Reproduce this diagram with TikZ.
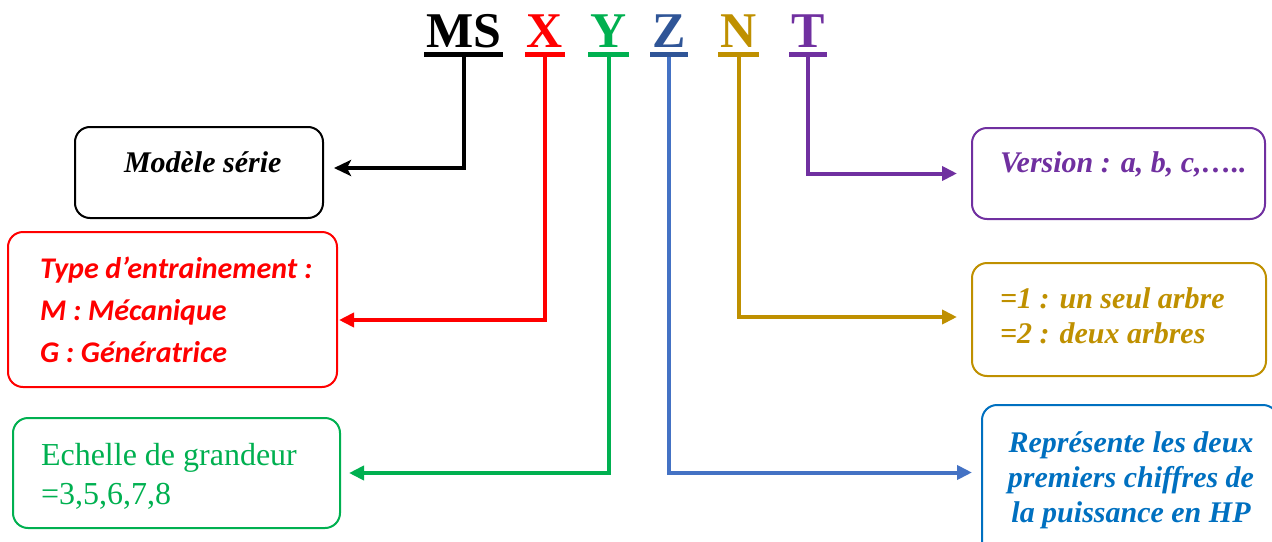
\documentclass[tikz,border=0pt]{standalone}
\usepackage{fontspec}
\setmainfont{Liberation Serif}
\newfontfamily\calibri{Carlito}
\usetikzlibrary{arrows.meta}
\definecolor{rouge}{HTML}{FF0000}
\definecolor{vert}{HTML}{00B050}
\definecolor{bleuZ}{HTML}{2F5597}
\definecolor{bleuL}{HTML}{4472C4}
\definecolor{bleuB}{HTML}{0070C0}
\definecolor{ocre}{HTML}{BF9000}
\definecolor{violet}{HTML}{7030A0}
\begin{document}
\begin{tikzpicture}[x=1pt,y=-1pt,line width=4pt,line join=miter,
  lettre/.style={inner sep=0pt,anchor=base,
    font=\fontsize{50}{50}\selectfont\bfseries},
  cadre/.style={draw,line width=2pt,rounded corners=15pt,inner sep=0pt},
  fl/.style={-{Triangle[length=15pt,width=14pt]},line width=4pt},
  bi/.style={inner sep=0pt,align=left,
    font=\fontsize{30}{35}\selectfont\bfseries\itshape}]
  \useasboundingbox (0,0) rectangle (1272,541);
  \clip (0,0) rectangle (1272,541);
  % le code
  \node[lettre] (ms) at (463.5,47) {MS};
  \node[lettre,text=rouge] (lx) at (545,47) {X};
  \node[lettre,text=vert] (ly) at (608.5,47) {Y};
  \node[lettre,text=bleuZ] (lz) at (669,47) {Z};
  \node[lettre,text=ocre] (ln) at (738.5,47) {N};
  \node[lettre,text=violet] (lt) at (808,47) {T};
  \foreach \l/\col in {ms/black,lx/rouge,ly/vert,lz/bleuZ,ln/ocre,lt/violet}
    \draw[\col,line width=5pt] ([yshift=-5.5pt]\l.south west)
      -- ([yshift=-5.5pt]\l.south east);
  % cadres
  \node[cadre,minimum width=248pt,minimum height=91pt] (serie) at (199,172.5) {};
  \node[cadre,rouge,minimum width=329pt,minimum height=155pt] (type) at (172.5,309.5) {};
  \node[cadre,vert,minimum width=327pt,minimum height=110pt] (echelle) at (176.5,473) {};
  \node[cadre,violet,minimum width=293pt,minimum height=91pt] (version) at (1118.5,173.5) {};
  \node[cadre,ocre,minimum width=294pt,minimum height=113pt] (arbre) at (1119,319.5) {};
  \node[cadre,bleuB,minimum width=296pt,minimum height=155pt] (puiss) at (1130,482.5) {};
  % textes (base = derniere ligne)
  \node[bi,anchor=base west] (serie-t) at (122,172) {Modèle série};
  \node[bi,anchor=base west,text=violet] (version-t) at (998,172) {Version : a, b, c,…..};
  \node[bi,anchor=base west,text=ocre] (arbre-t) at (998,343)
    {=1 : un seul arbre\\=2 : deux arbres};
  \node[bi,anchor=base,align=center,text=bleuB] (puiss-t) at (1131,522)
    {Représente les deux\\premiers chiffres de\\la puissance en HP};
  \node[inner sep=0pt,align=left,anchor=base west,text=vert,
    font=\fontsize{32}{39}\selectfont] (echelle-t) at (39,504)
    {Echelle de grandeur\\=3,5,6,7,8};
  \node[inner sep=0pt,align=left,anchor=base west,text=rouge,
    font=\fontsize{30}{42}\selectfont\calibri\bfseries\itshape] (type-t) at (38,362)
    {Type d’entrainement :\\M : Mécanique\\G : Génératrice};
  % liaisons
  \draw[-{Stealth[length=17pt,width=16pt,inset=4pt]},shorten >=10pt]
    ([yshift=-8pt]ms.south) |- ([yshift=4.5pt]serie.east);
  \draw[fl,rouge,shorten >=1pt] ([yshift=-8pt]lx.south) |- ([yshift=-10.5pt]type.east);
  \draw[fl,vert,shorten >=8pt] ([yshift=-8pt]ly.south) |- (echelle.east);
  \draw[fl,bleuL,shorten >=9pt] ([yshift=-8pt]lz.south) |- ([yshift=10pt]puiss.west);
  \draw[fl,ocre,shorten >=14pt] ([yshift=-8pt]ln.south) |- ([yshift=2.5pt]arbre.west);
  \draw[fl,violet,shorten >=14pt] ([yshift=-8pt]lt.south) |- (version.west);
\end{tikzpicture}
\end{document}
